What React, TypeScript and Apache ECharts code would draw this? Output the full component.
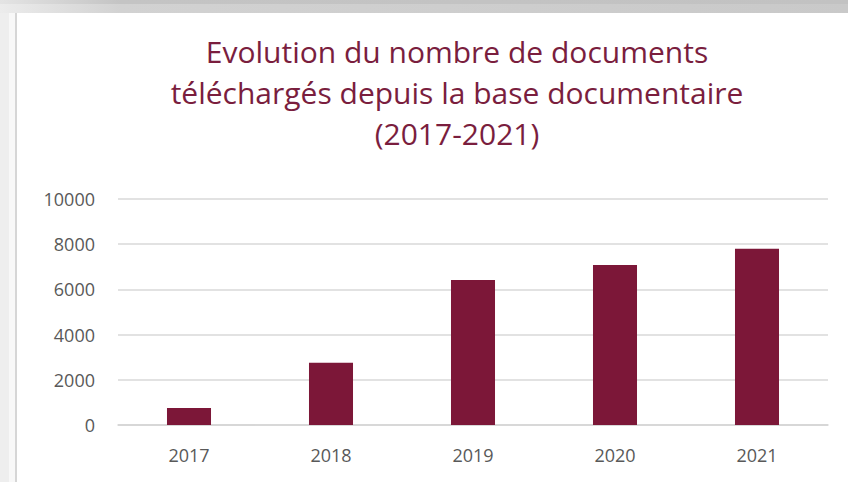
import React, { useEffect, useRef } from "react";
import * as echarts from "echarts";

const titleLines = [
  "Evolution du nombre de documents",
  "téléchargés depuis la base documentaire",
  "(2017-2021)",
];
const categories = ["2017", "2018", "2019", "2020", "2021"];
const values = [750, 2750, 6420, 7080, 7800];
const yMin = 0;
const yMax = 10000;
const yInterval = 2000;

const MAROON = "#7c1738";
const TITLE_COLOR = "#7a1e3e";
const LABEL_COLOR = "#595959";
const FONT = "'Open Sans', Lato, sans-serif";

export default function App() {
  const ref = useRef<HTMLDivElement>(null);
  useEffect(() => {
    document.body.style.margin = "0";
    if (!ref.current) return;
    const chart = echarts.init(ref.current, undefined, { renderer: "svg" });
    chart.setOption({
      animation: false,
      backgroundColor: "transparent",
      title: {
        text: titleLines.join("\n"),
        left: 452,
        textAlign: "center",
        top: 26,
        textStyle: {
          color: TITLE_COLOR,
          fontFamily: FONT,
          fontSize: 30,
          fontWeight: "normal",
          lineHeight: 41,
        },
      },
      grid: { left: 118, right: 20, top: 199, bottom: 57 },
      xAxis: {
        type: "category",
        data: categories,
        axisLine: { show: true, lineStyle: { color: "#d4d4d4", width: 1.5 } },
        axisTick: { show: false },
        axisLabel: {
          color: LABEL_COLOR,
          fontFamily: FONT,
          fontSize: 18,
          margin: 21,
        },
      },
      yAxis: {
        type: "value",
        min: yMin,
        max: yMax,
        interval: yInterval,
        axisLine: { show: false },
        axisTick: { show: false },
        splitLine: { lineStyle: { color: "#d9d9d9", width: 1.5 } },
        axisLabel: {
          color: LABEL_COLOR,
          fontFamily: FONT,
          fontSize: 18,
          margin: 23,
          formatter: (v: number) => String(v),
        },
      },
      series: [
        {
          type: "bar",
          data: values,
          barWidth: "31%",
          itemStyle: { color: MAROON },
        },
      ],
    });
    return () => chart.dispose();
  }, []);

  return (
    <div style={{ position: "fixed", left: 0, top: 0, width: 848, height: 482, background: "#ffffff", overflow: "hidden" }}>
      <div style={{ position: "absolute", left: 0, top: 0, width: 848, height: 13, background: "linear-gradient(to right, #ececec 0px, #d2d2d2 120px, #c9c9c9 848px)" }} />
      <div style={{ position: "absolute", left: 0, top: 0, width: 848, height: 4, background: "linear-gradient(to right, #e4e4e4 0px, #c4c4c4 120px, #c2c2c2 848px)" }} />
      <div style={{ position: "absolute", left: 0, top: 13, width: 9, height: 469, background: "#eeeeee" }} />
      <div style={{ position: "absolute", left: 9, top: 13, width: 6, height: 469, background: "#f8f8f8" }} />
      <div style={{ position: "absolute", left: 15, top: 13, width: 2, height: 469, background: "#d6d6d6" }} />
      <div ref={ref} style={{ position: "absolute", left: 0, top: 0, width: 848, height: 482 }} />
    </div>
  );
}
